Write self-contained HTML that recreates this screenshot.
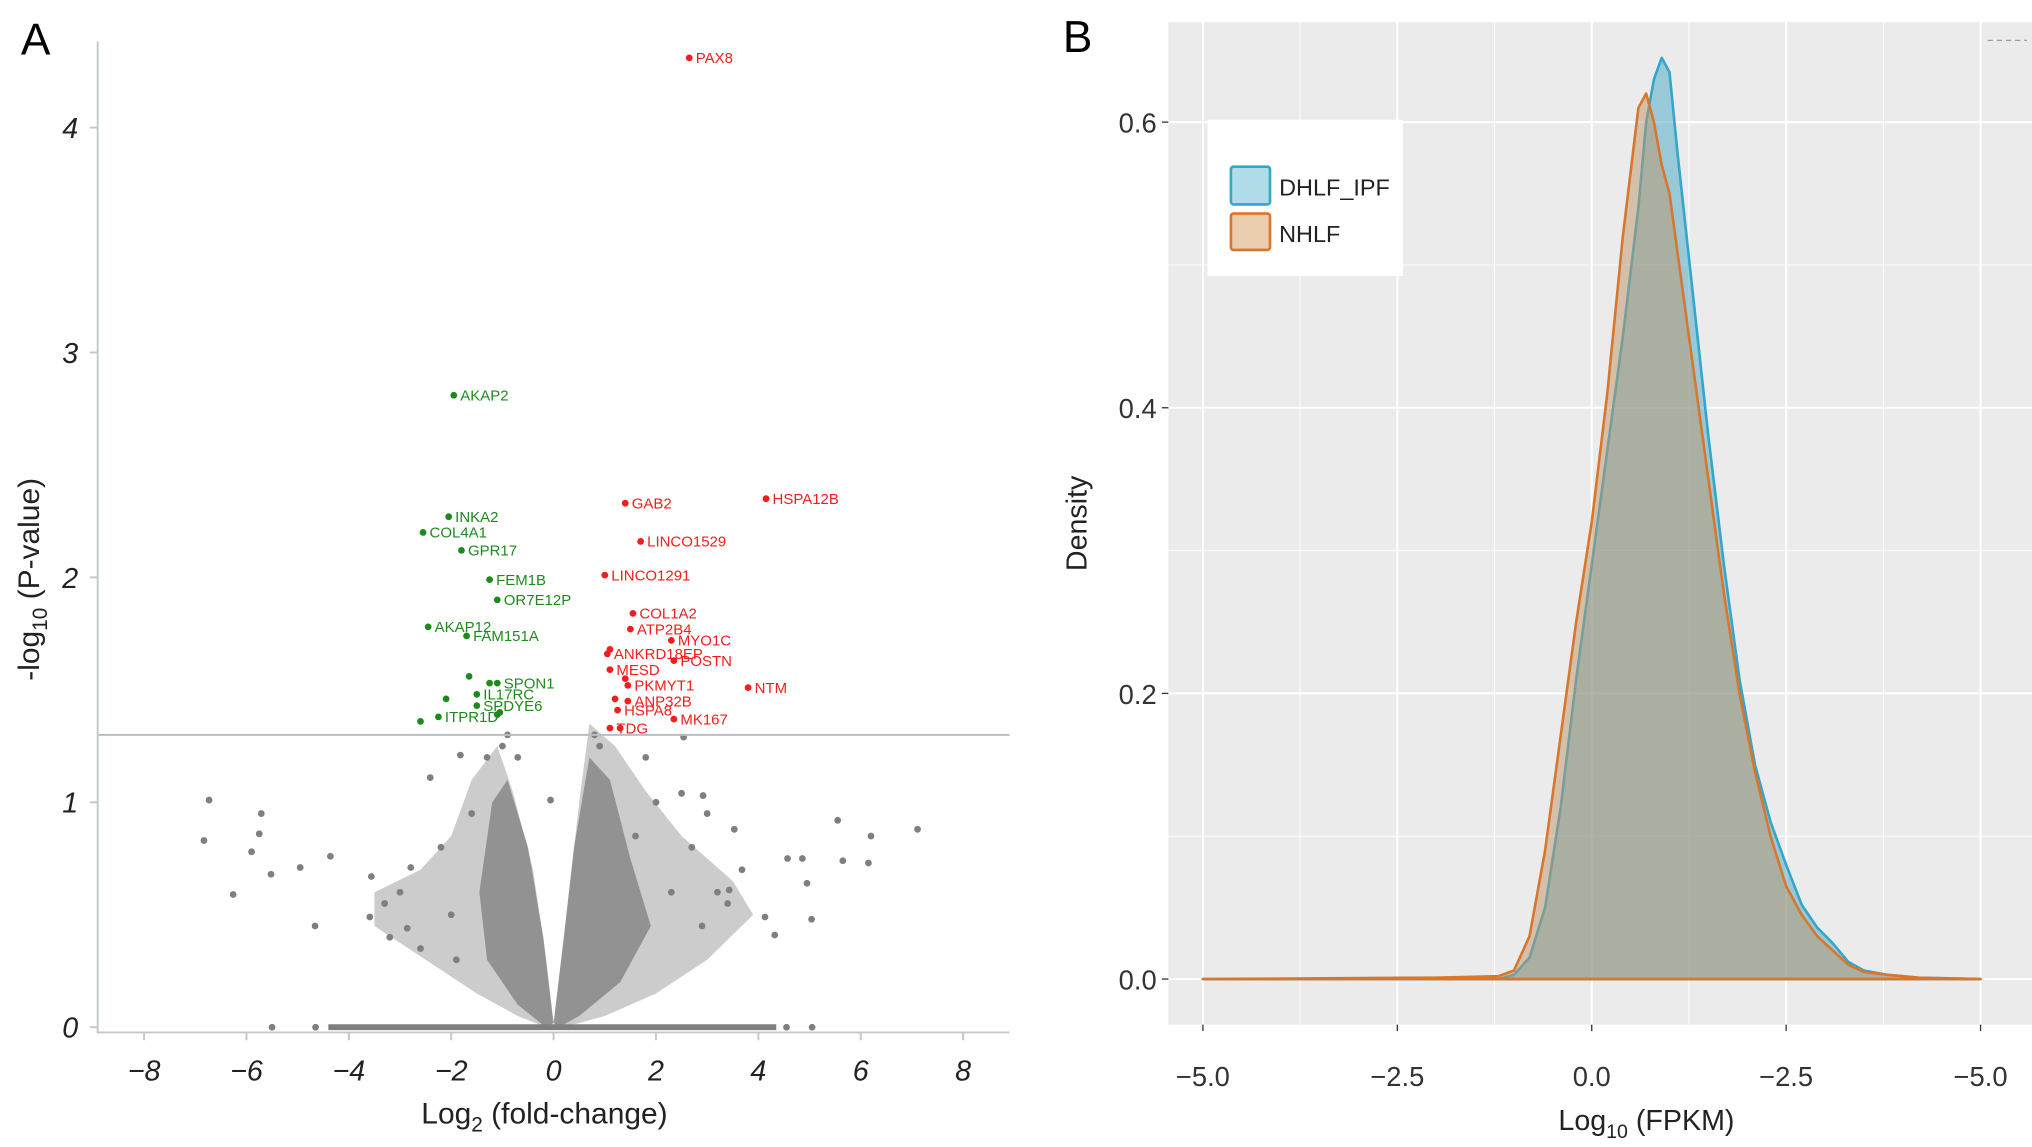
<!DOCTYPE html>
<html><head><meta charset="utf-8"><style>
html,body{margin:0;padding:0;background:#fff;}
svg{display:block;font-family:"Liberation Sans",Arial,sans-serif;}
</style></head><body>
<svg id="fig" width="2032" height="1147" viewBox="0 0 1560 881" preserveAspectRatio="none" xmlns="http://www.w3.org/2000/svg">
<g id="pa"></g>
<g id="pb"></g>
</svg>
<script>
// ---- Panel A data ----
const greenX=[-1.95,-2.05,-2.55,-1.8,-1.25,-1.1,-2.45,-1.7,-1.1,-1.25,-1.65,-1.5,-1.5,-2.1,-2.25,-2.6,-1.1,-1.05];
const greenY=[2.81,2.27,2.20,2.12,1.99,1.90,1.78,1.74,1.53,1.53,1.56,1.48,1.43,1.46,1.38,1.36,1.39,1.40];
const greenLab=["AKAP2","INKA2","COL4A1","GPR17","FEM1B","OR7E12P","AKAP12","FAM151A","SPON1","","","IL17RC","SPDYE6","","ITPR1D","","",""];
const redX=[2.65,4.15,1.4,1.7,1.0,1.55,1.5,2.3,1.05,1.1,2.35,1.1,3.8,1.45,1.4,1.45,1.2,1.25,2.35,1.1,1.3];
const redY=[4.31,2.35,2.33,2.16,2.01,1.84,1.77,1.72,1.66,1.68,1.63,1.59,1.51,1.52,1.55,1.45,1.46,1.41,1.37,1.33,1.33];
const redLab=["PAX8","HSPA12B","GAB2","LINCO1529","LINCO1291","COL1A2","ATP2B4","MYO1C","ANKRD18EP","","POSTN","MESD","NTM","PKMYT1","","ANP32B","","HSPA8","MK167","TDG",""];
const grayX=[-6.73,-6.83,-5.71,-5.75,-5.9,-5.52,-6.26,-4.95,-4.36,-4.66,5.55,6.2,7.11,5.65,6.15,5.04,4.32,2.92,3.53,4.86,4.95,4.57,4.13,3.43,3.68,-0.06,-3.56,-3.59,-2.86,-2.79,-2.41,-1.82,2.5,2.54,-5.5,-4.65,4.55,5.05,-1.3,-1.6,-1.0,-2.2,-3.0,-3.3,2.0,2.7,3.2,3.0,1.8,-0.9,0.8,0.9,-0.7,-2.0,-2.6,-3.2,2.3,2.9,3.4,-1.9,1.6];
const grayY=[1.01,0.83,0.95,0.86,0.78,0.68,0.59,0.71,0.76,0.45,0.92,0.85,0.88,0.74,0.73,0.48,0.41,1.03,0.88,0.75,0.64,0.75,0.49,0.61,0.70,1.01,0.67,0.49,0.44,0.71,1.11,1.21,1.04,1.29,0,0,0,0,1.2,0.95,1.25,0.8,0.6,0.55,1.0,0.8,0.6,0.95,1.2,1.3,1.3,1.25,1.2,0.5,0.35,0.4,0.6,0.45,0.55,0.3,0.85];
const leftHullX=[0,-0.15,-0.4,-0.8,-1.1,-1.6,-2.0,-2.6,-3.5,-3.5,-2.5,-1.5,-0.7,-0.15];
const leftHullY=[0,0.3,0.7,1.05,1.25,1.1,0.85,0.7,0.6,0.45,0.3,0.15,0.05,0];
const rightHullX=[0,0.15,0.3,0.5,0.7,1.2,1.8,2.5,3.5,3.9,3.0,2.0,1.0,0.2];
const rightHullY=[0,0.3,0.6,1.0,1.35,1.25,1.05,0.85,0.65,0.5,0.3,0.15,0.05,0];
const leftCoreX=[0,-0.2,-0.5,-0.9,-1.2,-1.45,-1.3,-0.7,-0.15];
const leftCoreY=[0.02,0.4,0.8,1.1,1.0,0.6,0.3,0.1,0];
const rightCoreX=[0,0.2,0.4,0.7,1.1,1.5,1.9,1.3,0.5,0.1];
const rightCoreY=[0.02,0.4,0.8,1.2,1.1,0.75,0.45,0.2,0.05,0];
const xTicksA=[-8,-6,-4,-2,0,2,4,6,8];
const yTicksA=[0,1,2,3,4];
const threshold=1.30;
// ---- Panel B data ----
const xB=[-5,-2,-1.2,-1,-0.8,-0.6,-0.4,-0.2,0,0.2,0.4,0.6,0.7,0.8,0.9,1.0,1.1,1.3,1.5,1.7,1.9,2.1,2.3,2.5,2.7,2.9,3.1,3.3,3.5,3.8,4.2,5];
const blueY=[0,0,0,0.003,0.015,0.05,0.12,0.21,0.29,0.37,0.45,0.54,0.60,0.63,0.645,0.635,0.58,0.48,0.38,0.29,0.21,0.15,0.11,0.08,0.052,0.036,0.025,0.012,0.006,0.003,0.001,0];
const orangeY=[0,0.001,0.002,0.006,0.03,0.09,0.17,0.25,0.32,0.41,0.52,0.61,0.62,0.60,0.57,0.55,0.51,0.43,0.35,0.27,0.20,0.145,0.10,0.065,0.045,0.03,0.02,0.01,0.005,0.003,0.001,0];
const xTicksB=[-5,-2.5,0,2.5,5];
const xTickLabB=["\u22125.0","\u22122.5","0.0","\u22122.5","\u22125.0"];
const yTicksB=[0,0.2,0.4,0.6];
const yTickLabB=["0.0","0.2","0.4","0.6"];

const NS="http://www.w3.org/2000/svg";
function mk(parent,tag,attrs,txt){const e=document.createElementNS(NS,tag);for(const k in attrs)e.setAttribute(k,attrs[k]);if(txt!==undefined)e.textContent=txt;parent.appendChild(e);return e;}
const fmt=v=>(v<0?"\u2212"+Math.abs(v):""+v);

// Panel A
const pa=document.getElementById('pa');
const ax=v=>425+v*39.3, ay=v=>789-v*172.75;
let t=mk(pa,'text',{x:16,y:42,'font-size':34},'A');


function poly(X,Y,op,nm){const p=mk(pa,'polygon',{points:X.map((x,i)=>ax(x)+','+ay(Y[i])).join(' '),fill:'#7f7f7f',opacity:op,'stroke-linejoin':'round'});

}
poly(leftHullX,leftHullY,0.4,'gray-cloud-left-outer');
poly(rightHullX,rightHullY,0.4,'gray-cloud-right-outer');
poly(leftCoreX,leftCoreY,0.75,'gray-cloud-left-core');
poly(rightCoreX,rightCoreY,0.75,'gray-cloud-right-core');
let base=mk(pa,'line',{x1:ax(-4.4),x2:ax(4.35),y1:ay(0),y2:ay(0),stroke:'#7f7f7f','stroke-width':4.5});


grayX.forEach((x,i)=>{const c=mk(pa,'circle',{cx:ax(x),cy:ay(grayY[i]),r:2.6,fill:'#7f7f7f'});

});
let th=mk(pa,'line',{x1:75,x2:775,y1:ay(threshold),y2:ay(threshold),stroke:'#b8bec4','stroke-width':1.5});


function genes(X,Y,L,col,nm){X.forEach((x,i)=>{const c=mk(pa,'circle',{cx:ax(x),cy:ay(Y[i]),r:2.6,fill:col});


if(L[i]){const tt=mk(pa,'text',{x:ax(x)+5,y:ay(Y[i])+4,'font-size':11.5,fill:col},L[i]);

}});}
genes(greenX,greenY,greenLab,'#1e8a1e','down-gene');
genes(redX,redY,redLab,'#f01e1e','up-gene');
let axl=mk(pa,'path',{d:'M75,32 V793 H775',fill:'none',stroke:'#c4c8cc','stroke-width':1.5});


xTicksA.forEach(v=>{mk(pa,'line',{x1:ax(v),x2:ax(v),y1:793,y2:799,stroke:'#c4c8cc','stroke-width':1.5});
const tl=mk(pa,'text',{x:ax(v),y:830,'font-size':22,'font-style':'italic','text-anchor':'middle',fill:'#222'},fmt(v));

});
yTicksA.forEach(v=>{mk(pa,'line',{x1:69,x2:75,y1:ay(v),y2:ay(v),stroke:'#c4c8cc','stroke-width':1.5});
const tl=mk(pa,'text',{x:60,y:ay(v)+8,'font-size':22,'font-style':'italic','text-anchor':'end',fill:'#222'},fmt(v));

});
let xt=mk(pa,'text',{x:418,y:863,'font-size':23,'text-anchor':'middle',fill:'#222'});
xt.innerHTML='Log<tspan font-size="16" dy="6">2</tspan><tspan dy="-6"> (fold-change)</tspan>';


let yt=mk(pa,'text',{transform:'translate(30,445) rotate(-90)','font-size':23,'text-anchor':'middle',fill:'#222'});
yt.innerHTML='-log<tspan font-size="16" dy="6">10</tspan><tspan dy="-6"> (P-value)</tspan>';



// Panel B
const pb=document.getElementById('pb');
const bx=v=>1222+v*59.7, by=v=>752-v*1097;
t=mk(pb,'text',{x:816,y:40,'font-size':34},'B');


let bg=mk(pb,'rect',{x:897,y:17,width:665,height:770,fill:'#ebebeb'});


[-3.75,-1.25,1.25,3.75].forEach(v=>mk(pb,'line',{x1:bx(v),x2:bx(v),y1:17,y2:787,stroke:'#fff','stroke-width':0.7}));
[0.1,0.3,0.5].forEach(v=>mk(pb,'line',{x1:897,x2:1562,y1:by(v),y2:by(v),stroke:'#fff','stroke-width':0.7}));
xTicksB.forEach((v,i)=>{mk(pb,'line',{x1:bx(v),x2:bx(v),y1:17,y2:787,stroke:'#fff','stroke-width':1.5});
mk(pb,'line',{x1:bx(v),x2:bx(v),y1:787,y2:792,stroke:'#333','stroke-width':1});
const tl=mk(pb,'text',{x:bx(v),y:834,'font-size':21,'text-anchor':'middle',fill:'#333'},xTickLabB[i]);

});
yTicksB.forEach((v,i)=>{mk(pb,'line',{x1:897,x2:1562,y1:by(v),y2:by(v),stroke:'#fff','stroke-width':1.5});
mk(pb,'line',{x1:892,x2:897,y1:by(v),y2:by(v),stroke:'#333','stroke-width':1});
const tl=mk(pb,'text',{x:888,y:by(v)+8,'font-size':21,'text-anchor':'end',fill:'#333'},yTickLabB[i]);

});
function area(Y,fill,stroke,nm){const pts=xB.map((x,i)=>bx(x)+','+by(Y[i])).join(' L');
const p=mk(pb,'path',{d:'M'+pts+' Z',fill:fill,stroke:stroke,'stroke-width':2,'stroke-linejoin':'round'});

}
area(blueY,'rgba(70,168,200,0.5)','#33a6c9','density-dhlf-ipf');
area(orangeY,'rgba(190,150,105,0.5)','#d8772c','density-nhlf');
let lg=mk(pb,'g',{});


mk(lg,'rect',{x:927,y:92,width:150,height:120,fill:'#fff'});
const k1=mk(lg,'rect',{x:945,y:128,width:30,height:29,rx:2,fill:'rgba(80,175,205,0.45)',stroke:'#33a6c9','stroke-width':2});


const k2=mk(lg,'rect',{x:945,y:164,width:30,height:28,rx:2,fill:'rgba(220,170,120,0.6)',stroke:'#d8772c','stroke-width':2});


mk(lg,'text',{x:982,y:150,'font-size':18,fill:'#222'},'DHLF_IPF');
mk(lg,'text',{x:982,y:186,'font-size':18,fill:'#222'},'NHLF');
mk(pb,'line',{x1:1526,x2:1556,y1:31,y2:31,stroke:'#999','stroke-width':1,'stroke-dasharray':'4 3'});
let bxt=mk(pb,'text',{x:1264,y:868,'font-size':22,'text-anchor':'middle',fill:'#222'});
bxt.innerHTML='Log<tspan font-size="15" dy="6">10</tspan><tspan dy="-6"> (FPKM)</tspan>';


let byt=mk(pb,'text',{transform:'translate(834,402) rotate(-90)','font-size':22,'text-anchor':'middle',fill:'#222'},'Density');


</script>
</body></html>
